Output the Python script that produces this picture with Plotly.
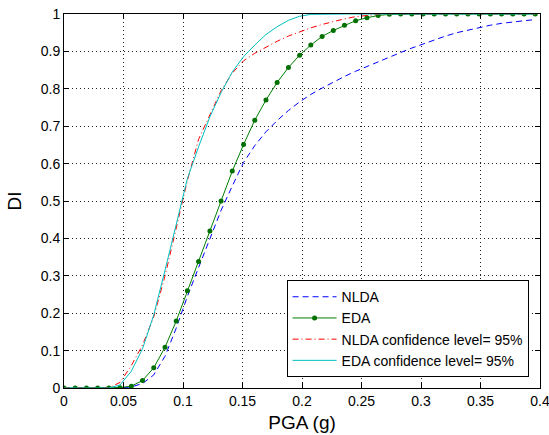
import plotly.graph_objects as go

pga = [0, 0.0094, 0.0189, 0.0283, 0.0377, 0.0471, 0.0566, 0.066, 0.0754, 0.0849,
       0.0943, 0.1037, 0.1131, 0.1226, 0.132, 0.1414, 0.1509, 0.1603, 0.1697, 0.1791,
       0.1886, 0.198, 0.2074, 0.2169, 0.2263, 0.2357, 0.2451, 0.2546, 0.264, 0.2734,
       0.2829, 0.2923, 0.3017, 0.3111, 0.3206, 0.33, 0.3394, 0.3489, 0.3583, 0.3677,
       0.3771, 0.3866, 0.396]

nlda = [0, 0, 0, 0, 0, 0.0, 0.003, 0.012, 0.035, 0.085,
        0.16, 0.245, 0.322, 0.398, 0.475, 0.54, 0.603, 0.648, 0.685, 0.715,
        0.742, 0.765, 0.785, 0.802, 0.818, 0.833, 0.847, 0.86, 0.873, 0.885,
        0.897, 0.909, 0.92, 0.931, 0.941, 0.95, 0.957, 0.964, 0.97, 0.975,
        0.979, 0.982, 0.985]

eda = [0, 0, 0, 0, 0, 0.001, 0.005, 0.02, 0.054, 0.109,
       0.179, 0.26, 0.338, 0.42, 0.50, 0.58, 0.651, 0.716, 0.77, 0.817,
       0.857, 0.89, 0.917, 0.94, 0.956, 0.97, 0.982, 0.99, 0.996, 0.999,
       1, 1, 1, 1, 1, 1, 1, 1, 1, 1,
       1, 1, 1]

nlda_conf = [0, 0, 0, 0, 0, 0.015, 0.06, 0.115, 0.19, 0.30,
             0.425, 0.555, 0.665, 0.732, 0.795, 0.842, 0.875, 0.895, 0.912, 0.927,
             0.941, 0.953, 0.963, 0.972, 0.98, 0.987, 0.993, 0.997, 0.999, 1.0,
             1, 1, 1, 1, 1, 1, 1, 1, 1, 1,
             1, 1, 1]

eda_conf = [0, 0, 0, 0, 0, 0.008, 0.045, 0.105, 0.195, 0.315,
            0.44, 0.56, 0.645, 0.725, 0.79, 0.845, 0.886, 0.917, 0.945, 0.966,
            0.983, 0.994, 0.999, 1, 1, 1, 1, 1, 1, 1,
            1, 1, 1, 1, 1, 1, 1, 1, 1, 1,
            1, 1, 1]

x_ticks = [0, 0.05, 0.1, 0.15, 0.2, 0.25, 0.3, 0.35, 0.4]
x_tick_text = ["0", "0.05", "0.1", "0.15", "0.2", "0.25", "0.3", "0.35", "0.4"]
y_ticks = [0, 0.1, 0.2, 0.3, 0.4, 0.5, 0.6, 0.7, 0.8, 0.9, 1]
y_tick_text = ["0", "0.1", "0.2", "0.3", "0.4", "0.5", "0.6", "0.7", "0.8", "0.9", "1"]

FONT = "Liberation Sans, Arial, sans-serif"

fig = go.Figure()
fig.add_trace(go.Scatter(x=pga, y=nlda, mode="lines", name="NLDA",
                         line=dict(color="#0000ff", width=1, dash="6px,4px")))
fig.add_trace(go.Scatter(x=pga, y=eda, mode="lines+markers", name="EDA",
                         line=dict(color="#008000", width=1),
                         marker=dict(color="#007000", size=5, symbol="circle")))
fig.add_trace(go.Scatter(x=pga, y=nlda_conf, mode="lines", name="NLDA confidence level= 95%",
                         line=dict(color="#ff0000", width=1, dash="6px,3px,1px,3px")))
fig.add_trace(go.Scatter(x=pga, y=eda_conf, mode="lines", name="EDA confidence level= 95%",
                         line=dict(color="#00bfbf", width=1)))

axis_common = dict(
    showline=True, linecolor="black", linewidth=1, mirror="ticks",
    ticks="inside", ticklen=5, tickcolor="black", tickwidth=1,
    showgrid=True, gridcolor="#222222", gridwidth=1, griddash="1px,3px",
    zeroline=False, automargin=False, ticklabeloverflow="allow",
    tickfont=dict(family=FONT, size=14, color="black"),
)

fig.update_xaxes(range=[0, 0.4], tickvals=x_ticks, ticktext=x_tick_text,
                 title=dict(text="PGA (g)", font=dict(family=FONT, size=19, color="black"), standoff=7),
                 **axis_common)
fig.update_yaxes(range=[0, 1], tickvals=y_ticks, ticktext=y_tick_text,
                 title=dict(text="DI", font=dict(family=FONT, size=19, color="black"), standoff=14),
                 **axis_common)

fig.update_layout(
    width=549, height=435, autosize=False,
    margin=dict(l=64, r=9, t=14, b=47),
    paper_bgcolor="white", plot_bgcolor="white",
    font=dict(family=FONT, color="black"),
    legend=dict(x=0.976, y=0.029, xanchor="right", yanchor="bottom",
                bgcolor="white", bordercolor="black", borderwidth=1,
                font=dict(family=FONT, size=14, color="black"),
                itemwidth=44, tracegroupgap=0),
    showlegend=True,
)

fig.write_html("out.html")
